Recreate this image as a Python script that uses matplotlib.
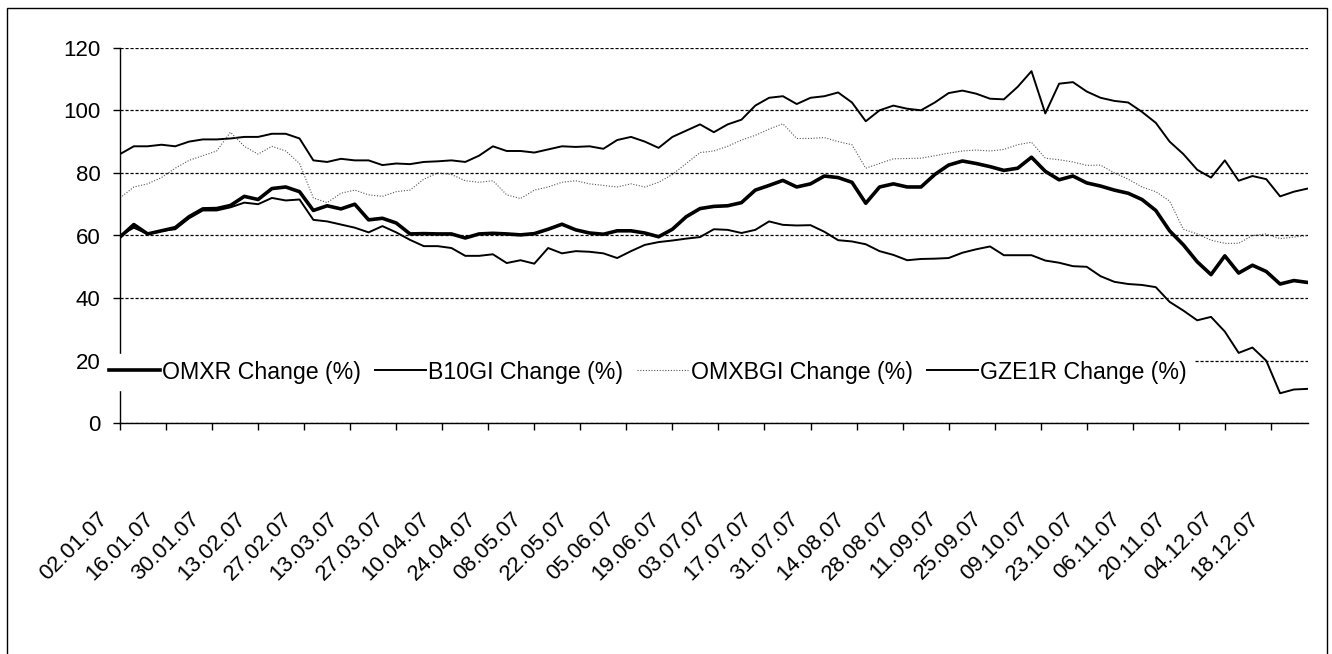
import matplotlib
matplotlib.use("Agg")
import matplotlib.pyplot as plt
import matplotlib.transforms as mtransforms
from matplotlib.patches import Rectangle

plt.rcParams['font.family'] = ['Liberation Sans', 'DejaVu Sans']

# dates shown under every 10th trading day
date_labels = ["02.01.07", "16.01.07", "30.01.07", "13.02.07", "27.02.07", "13.03.07",
               "27.03.07", "10.04.07", "24.04.07", "08.05.07", "22.05.07", "05.06.07",
               "19.06.07", "03.07.07", "17.07.07", "31.07.07", "14.08.07", "28.08.07",
               "11.09.07", "25.09.07", "09.10.07", "23.10.07", "06.11.07", "20.11.07",
               "04.12.07", "18.12.07"]

# trading day index of each value (every 3rd day)
day_index = list(range(0, 259, 3))

b10gi = [86, 88.5, 88.5, 89, 88.5, 90, 90.7, 90.7, 91, 91.5, 91.5, 92.5, 92.5, 91, 84,
         83.5, 84.5, 84, 84, 82.5, 83, 82.8, 83.5, 83.7, 84, 83.5, 85.5, 88.5, 87, 87,
         86.5, 87.5, 88.5, 88.3, 88.5, 87.7, 90.5, 91.5, 90, 88, 91.5, 93.5, 95.5, 93,
         95.5, 97, 101.5, 104, 104.5, 102, 104, 104.5, 105.7, 102.5, 96.5, 100, 101.5,
         100.5, 100, 102.5, 105.5, 106.3, 105.3, 103.7, 103.5, 107.5, 112.5, 99, 108.5,
         109, 106, 104, 103, 102.5, 99.5, 96, 90, 86, 81, 78.5, 84, 77.5, 79, 78, 72.5,
         74, 75]

omxbgi = [72, 75.5, 76.5, 78.5, 81.5, 84, 85.5, 87, 93, 88.5, 86, 88.5, 87, 83, 72,
          70.5, 73.5, 74.5, 73, 72.5, 74, 74.5, 78, 80, 79.5, 77.5, 77, 77.5, 73, 71.8,
          74.5, 75.5, 77, 77.5, 76.5, 76, 75.5, 76.5, 75.5, 77, 79.5, 83, 86.5, 87,
          88.5, 90.5, 92, 94, 95.7, 91, 91, 91.3, 90, 89, 81.5, 83, 84.5, 84.6, 84.7,
          85.5, 86.3, 87, 87.3, 87, 87.5, 89, 89.8, 84.7, 84.2, 83.5, 82.4, 82.5, 80,
          78, 75.5, 74, 71, 62, 60.5, 58.5, 57.5, 57.5, 60, 60.5, 59, 59.5, 60]

omxr = [59.5, 63.5, 60.5, 61.5, 62.5, 66, 68.5, 68.6, 69.6, 72.5, 71.5, 75, 75.5, 74,
        68, 69.5, 68.5, 70, 65, 65.5, 64, 60.5, 60.6, 60.5, 60.5, 59.2, 60.5, 60.7,
        60.5, 60.2, 60.6, 62, 63.6, 61.8, 60.8, 60.4, 61.5, 61.5, 60.8, 59.6, 62, 66,
        68.6, 69.3, 69.5, 70.5, 74.5, 76, 77.6, 75.5, 76.5, 79, 78.5, 77, 70.3, 75.5,
        76.5, 75.5, 75.5, 79.5, 82.5, 83.8, 83, 82, 80.8, 81.5, 85, 80.5, 77.8, 79,
        76.8, 75.8, 74.5, 73.5, 71.5, 68, 61.5, 57, 51.6, 47.5, 53.5, 48, 50.5, 48.5,
        44.5, 45.6, 45]

gze1r = [60, 62.5, 60.5, 61.5, 62, 65.5, 68, 68, 69, 70.5, 70, 72, 71.2, 71.5, 65,
         64.5, 63.5, 62.5, 61, 63, 61, 58.6, 56.6, 56.6, 56, 53.5, 53.5, 54, 51.2,
         52.1, 51, 56, 54.3, 55, 54.8, 54.3, 52.8, 55, 57, 57.9, 58.4, 59, 59.5, 62,
         61.8, 60.8, 61.8, 64.5, 63.4, 63.2, 63.3, 61.2, 58.5, 58.1, 57.2, 55, 53.8,
         52.1, 52.5, 52.6, 52.8, 54.5, 55.6, 56.5, 53.7, 53.7, 53.7, 52, 51.3, 50.2,
         50, 47, 45.2, 44.5, 44.2, 43.5, 38.8, 36, 32.9, 34, 29.3, 22.5, 24.2, 20, 9.6,
         10.8, 11]

W, H = 1332, 654
fig = plt.figure(figsize=(W / 100, H / 100), dpi=100)
ax = fig.add_axes([120 / W, (H - 423.3) / H, (1307.7 - 120) / W, (423.3 - 47.7) / H])

l_omxr, = ax.plot(day_index, omxr, color='black', lw=2.6, label='OMXR Change (%)')
l_b10, = ax.plot(day_index, b10gi, color='black', lw=1.4, label='B10GI Change (%)')
l_bgi, = ax.plot(day_index, omxbgi, color='#555555', lw=0.8, linestyle=(0, (1, 1.5)),
                 label='OMXBGI Change (%)')
l_gze, = ax.plot(day_index, gze1r, color='black', lw=1.4, label='GZE1R Change (%)')

ax.set_xlim(0, 258)
ax.set_ylim(0, 120)
ax.set_yticks(range(0, 121, 20))
ax.set_xticks(range(0, 251, 10))
ax.set_xticklabels(date_labels, rotation=45, ha='right', va='top')
ax.tick_params(axis='x', direction='out', length=5, width=1, pad=56, labelsize=16)
ax.tick_params(axis='y', direction='out', length=5, width=1, pad=9, labelsize=16)

# nudge the slanted date labels a little to the left
offset = mtransforms.ScaledTranslation(-8 / 100, 0, fig.dpi_scale_trans)
for lab in ax.get_xticklabels():
    lab.set_transform(lab.get_transform() + offset)

for side in ['top', 'right']:
    ax.spines[side].set_visible(False)
for side in ['left', 'bottom']:
    ax.spines[side].set_linewidth(1)

ax.yaxis.grid(True, color='black', linestyle=(0, (2.5, 1.5)), lw=0.9)
ax.set_axisbelow(True)

leg = ax.legend([l_omxr, l_b10, l_bgi, l_gze],
                ['OMXR Change (%)', 'B10GI Change (%)', 'OMXBGI Change (%)', 'GZE1R Change (%)'],
                ncol=4, loc='center left',
                bbox_to_anchor=(102 / W, (H - 372) / H), bbox_transform=fig.transFigure,
                frameon=True, fancybox=False, edgecolor='white', facecolor='white',
                framealpha=1, fontsize=16.7, handlelength=2.2, handletextpad=0.1,
                columnspacing=0.6, borderpad=0.3, borderaxespad=0)
leg.set_zorder(10)

# outer frame of the picture
fig.patches.append(Rectangle((7 / W, -0.02), 1320 / W, (H - 8) / H + 0.02,
                             transform=fig.transFigure, fill=False,
                             edgecolor='black', lw=1))

fig.savefig('out.png', dpi=100)
